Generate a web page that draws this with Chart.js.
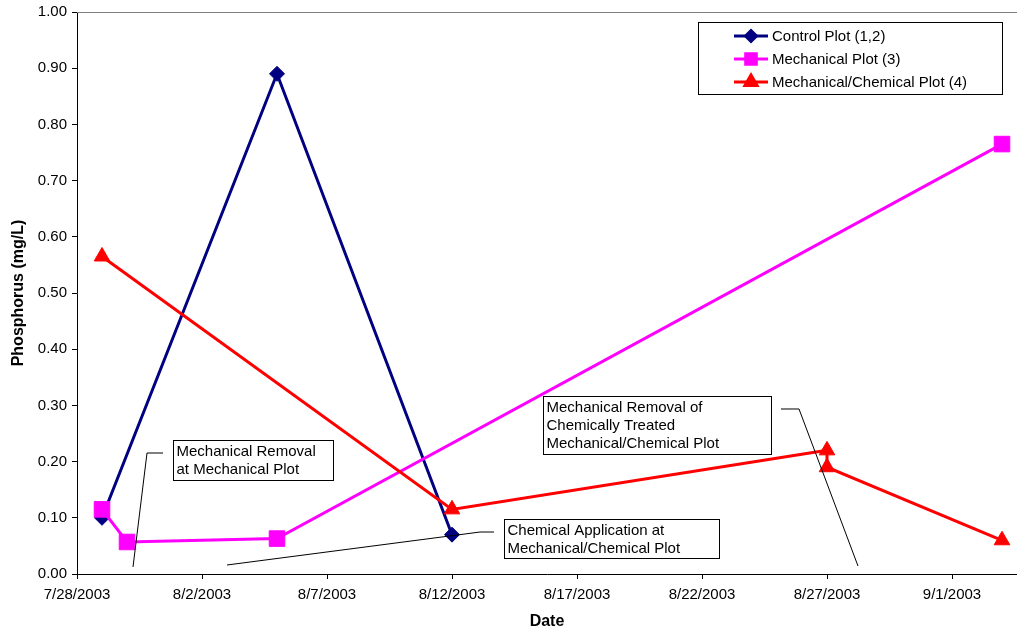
<!DOCTYPE html>
<html>
<head>
<meta charset="utf-8">
<title>Phosphorus (mg/L)</title>
<script src="https://cdn.jsdelivr.net/npm/chart.js@4/dist/chart.umd.min.js"></script>
<style>
  html, body { margin: 0; padding: 0; background: #ffffff; overflow: hidden; }
  #c { display: block; }
</style>
</head>
<body>
<canvas id="c" width="1017" height="635"></canvas>
<script>
// ---- data -------------------------------------------------------------
const controlDates  = ['7/29/2003', '8/5/2003', '8/12/2003'];
const controlValues = [0.10, 0.89, 0.07];

const mechanicalDates  = ['7/29/2003', '7/30/2003', '8/5/2003', '9/3/2003'];
const mechanicalValues = [0.115, 0.057, 0.063, 0.765];

const mechChemDates  = ['7/29/2003', '8/12/2003', '8/27/2003', '8/27/2003', '9/3/2003'];
const mechChemValues = [0.565, 0.115, 0.22, 0.19, 0.06];

const tickLabels = ['7/28/2003', '8/2/2003', '8/7/2003', '8/12/2003',
                    '8/17/2003', '8/22/2003', '8/27/2003', '9/1/2003'];

const seriesNames = ['Control Plot (1,2)', 'Mechanical Plot (3)', 'Mechanical/Chemical Plot (4)'];

// ---- helpers ----------------------------------------------------------
const FONT = '"Liberation Sans", Arial, Helvetica, sans-serif';
const DAY = 86400000;
function toDay(s) {
  const [m, d, y] = s.split('/').map(Number);
  return (Date.UTC(y, m - 1, d) - Date.UTC(2003, 6, 28)) / DAY;
}
function points(dates, values) {
  return dates.map((d, i) => ({ x: toDay(d), y: values[i] }));
}
const tickDays = tickLabels.map(toDay);
const xEnd = toDay('9/3/2003') + 0.6;

// ---- callout text boxes (positioned in axis units: day, mg/L) ----------
const callouts = [
  {
    lines: ['Mechanical Removal', 'at Mechanical Plot'],
    box: [3.84, 0.2384, 10.24, 0.167],
    leader: [[3.44, 0.2153], [2.8, 0.2153], [2.24, 0.0125]]
  },
  {
    lines: ['Chemical Application at', 'Mechanical/Chemical Plot'],
    box: [17.08, 0.0979, 25.68, 0.0285],
    leader: [[16.68, 0.0747], [16.12, 0.0747], [6.0, 0.016]]
  },
  {
    lines: ['Mechanical Removal of', 'Chemically Treated', 'Mechanical/Chemical Plot'],
    box: [18.64, 0.3167, 27.76, 0.2135],
    leader: [[28.16, 0.2936], [28.88, 0.2936], [31.24, 0.0142]]
  }
];

const calloutPlugin = {
  id: 'callouts',
  afterDatasetsDraw(chart) {
    const { ctx, scales: { x, y } } = chart;
    ctx.save();
    ctx.font = '15px ' + FONT;
    ctx.textBaseline = 'middle';
    ctx.textAlign = 'left';
    callouts.forEach(c => {
      ctx.strokeStyle = '#000';
      ctx.lineWidth = 1;
      ctx.beginPath();
      c.leader.forEach((p, i) => {
        const px = x.getPixelForValue(p[0]), py = y.getPixelForValue(p[1]);
        if (i === 0) ctx.moveTo(px, py); else ctx.lineTo(px, py);
      });
      ctx.stroke();
      const x1 = Math.round(x.getPixelForValue(c.box[0])) + 0.5;
      const y1 = Math.round(y.getPixelForValue(c.box[1])) + 0.5;
      const x2 = Math.round(x.getPixelForValue(c.box[2])) + 0.5;
      const y2 = Math.round(y.getPixelForValue(c.box[3])) + 0.5;
      ctx.fillStyle = '#fff';
      ctx.fillRect(x1, y1, x2 - x1, y2 - y1);
      ctx.strokeRect(x1, y1, x2 - x1, y2 - y1);
      ctx.fillStyle = '#000';
      c.lines.forEach((t, i) => ctx.fillText(t, x1 + 3, y1 + 11 + i * 18.3));
    });
    ctx.restore();
  }
};

// ---- legend box and plot-area top edge --------------------------------
const legendPlugin = {
  id: 'boxLegend',
  afterDraw(chart) {
    const { ctx, chartArea } = chart;
    ctx.save();
    // plot area top border
    ctx.strokeStyle = '#808080';
    ctx.lineWidth = 1;
    ctx.beginPath();
    ctx.moveTo(chartArea.left, Math.round(chartArea.top) + 0.5);
    ctx.lineTo(chartArea.right, Math.round(chartArea.top) + 0.5);
    ctx.stroke();

    const bx = 698.5, by = 22.5, bw = 304, bh = 72;
    ctx.fillStyle = '#fff';
    ctx.fillRect(bx, by, bw, bh);
    ctx.strokeStyle = '#000';
    ctx.strokeRect(bx, by, bw, bh);

    const rows = [36, 59, 82];
    const sizes = [5.5, 7.5, 7];
    ctx.font = '15px ' + FONT;
    ctx.textBaseline = 'middle';
    ctx.textAlign = 'left';
    chart.data.datasets.forEach((ds, i) => {
      const yy = rows[i];
      ctx.strokeStyle = ds.borderColor;
      ctx.lineWidth = 3;
      ctx.beginPath();
      ctx.moveTo(734, yy);
      ctx.lineTo(768, yy);
      ctx.stroke();
      ctx.fillStyle = ds.borderColor;
      Chart.helpers.drawPoint(ctx, {
        pointStyle: ds.pointStyle, radius: sizes[i], rotation: 0, borderWidth: 1
      }, 751, yy);
      ctx.fillStyle = '#000';
      ctx.fillText(ds.label, 772, yy + 1);
    });
    ctx.restore();
  }
};

// ---- chart ------------------------------------------------------------
function series(label, data, color, style, radius, order) {
  return {
    label, data, order,
    borderColor: color,
    backgroundColor: color,
    borderWidth: 3,
    pointStyle: style,
    pointRadius: radius,
    pointHoverRadius: radius,
    pointBackgroundColor: color,
    pointBorderColor: color,
    pointBorderWidth: 1,
    showLine: true,
    tension: 0,
    clip: false
  };
}

new Chart(document.getElementById('c'), {
  type: 'line',
  data: {
    datasets: [
      series(seriesNames[0], points(controlDates, controlValues), '#000080', 'rectRot', 7.5, 3),
      series(seriesNames[1], points(mechanicalDates, mechanicalValues), '#FF00FF', 'rect', 11, 2),
      series(seriesNames[2], points(mechChemDates, mechChemValues), '#FF0000', 'triangle', 9, 1)
    ]
  },
  options: {
    responsive: false,
    animation: false,
    devicePixelRatio: 1,
    layout: { autoPadding: false, padding: { top: 12, right: 0, left: 0, bottom: 0 } },
    plugins: {
      legend: { display: false },
      tooltip: { enabled: false }
    },
    scales: {
      x: {
        type: 'linear',
        min: 0,
        max: xEnd,
        afterBuildTicks(scale) { scale.ticks = tickDays.map(v => ({ value: v })); },
        afterFit(scale) {
          scale.height = 61;
          scale.paddingLeft = 0;
          scale.paddingRight = 0;
        },
        grid: { drawOnChartArea: false, drawTicks: true, tickLength: 5, color: '#000' },
        border: { display: true, color: '#000', width: 1 },
        ticks: {
          autoSkip: false, maxRotation: 0, padding: 7, color: '#000',
          font: { family: FONT, size: 15 },
          callback: (v, i) => tickLabels[i]
        },
        title: {
          display: true, text: 'Date', color: '#000',
          font: { family: FONT, size: 16, weight: 'bold' },
          padding: { top: 4, bottom: 4 }
        }
      },
      y: {
        min: 0,
        max: 1,
        afterFit(scale) {
          scale.width = 77;
          scale.paddingTop = 0;
          scale.paddingBottom = 0;
        },
        grid: { drawOnChartArea: false, drawTicks: true, tickLength: 5, color: '#000' },
        border: { display: true, color: '#000', width: 1 },
        ticks: {
          stepSize: 0.1, padding: 5, color: '#000',
          font: { family: FONT, size: 15 },
          callback: v => Number(v).toFixed(2)
        },
        title: {
          display: true, text: 'Phosphorus (mg/L)', color: '#000',
          font: { family: FONT, size: 16, weight: 'bold' },
          padding: { top: 9, bottom: 9 }
        }
      }
    }
  },
  plugins: [calloutPlugin, legendPlugin]
});
</script>
</body>
</html>
